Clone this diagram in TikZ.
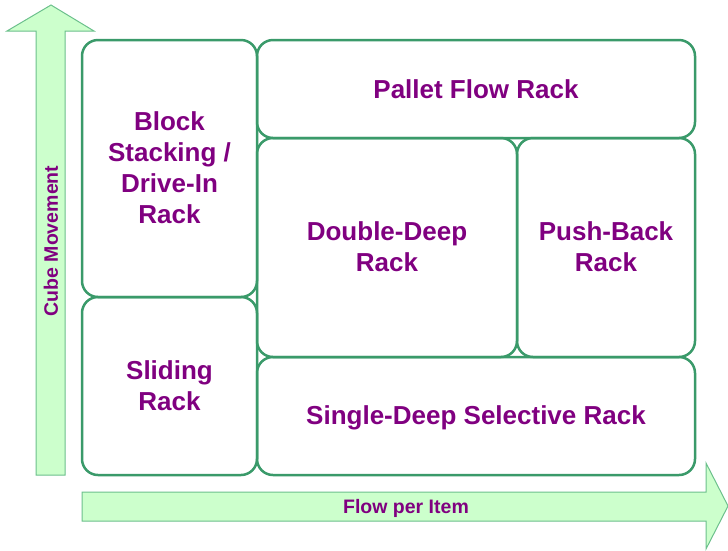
\documentclass[tikz,border=0pt]{standalone}
\usepackage{fontspec}
\setmainfont{Liberation Sans}
\definecolor{boxgreen}{HTML}{3A9A6A}
\definecolor{arrowfill}{HTML}{CCFFCC}
\definecolor{arrowline}{HTML}{6CC08C}
\definecolor{txtpurple}{HTML}{800080}
\begin{document}
\begin{tikzpicture}[x=1pt,y=-1pt,
  rackbox/.style={draw=boxgreen,line width=2.5pt,rounded corners=16pt},
  racklabel/.style={text=txtpurple,font=\fontsize{26}{31}\selectfont\bfseries,align=center},
  axisarrow/.style={fill=arrowfill,draw=arrowline,line width=1pt},
  axislabel/.style={text=txtpurple,font=\fontsize{19.5}{23}\selectfont\bfseries}]
\useasboundingbox (0,0) rectangle (728,550);
% axis arrows
\draw[axisarrow] (36,475) -- (36,31) -- (7,31) -- (51,5) -- (94,31) -- (65,31) -- (65,475) -- cycle;
\draw[axisarrow] (82,492) -- (706,492) -- (706,463) -- (728,506) -- (706,549) -- (706,521) -- (82,521) -- cycle;
\node[axislabel,rotate=90] (cube) at (51,241) {Cube Movement};
\node[axislabel] (flow) at (406,508) {Flow per Item};
% boxes
\draw[rackbox] (82,40) rectangle (257,297);
\draw[rackbox] (257,40) rectangle (695,138);
\draw[rackbox] (257,138) rectangle (517,357);
\draw[rackbox] (517,138) rectangle (695,357);
\draw[rackbox] (82,297) rectangle (257,475);
\draw[rackbox] (257,357) rectangle (695,475);
\node[racklabel] (block) at (169.5,168) {Block\\Stacking /\\Drive-In\\Rack};
\node[racklabel] (pallet) at (476,89) {Pallet Flow Rack};
\node[racklabel] (double) at (387,247) {Double-Deep\\Rack};
\node[racklabel] (push) at (606,247) {Push-Back\\Rack};
\node[racklabel] (sliding) at (169.5,385.5) {Sliding\\Rack};
\node[racklabel] (single) at (476,418) {Single-Deep Selective Rack};
\end{tikzpicture}
\end{document}
